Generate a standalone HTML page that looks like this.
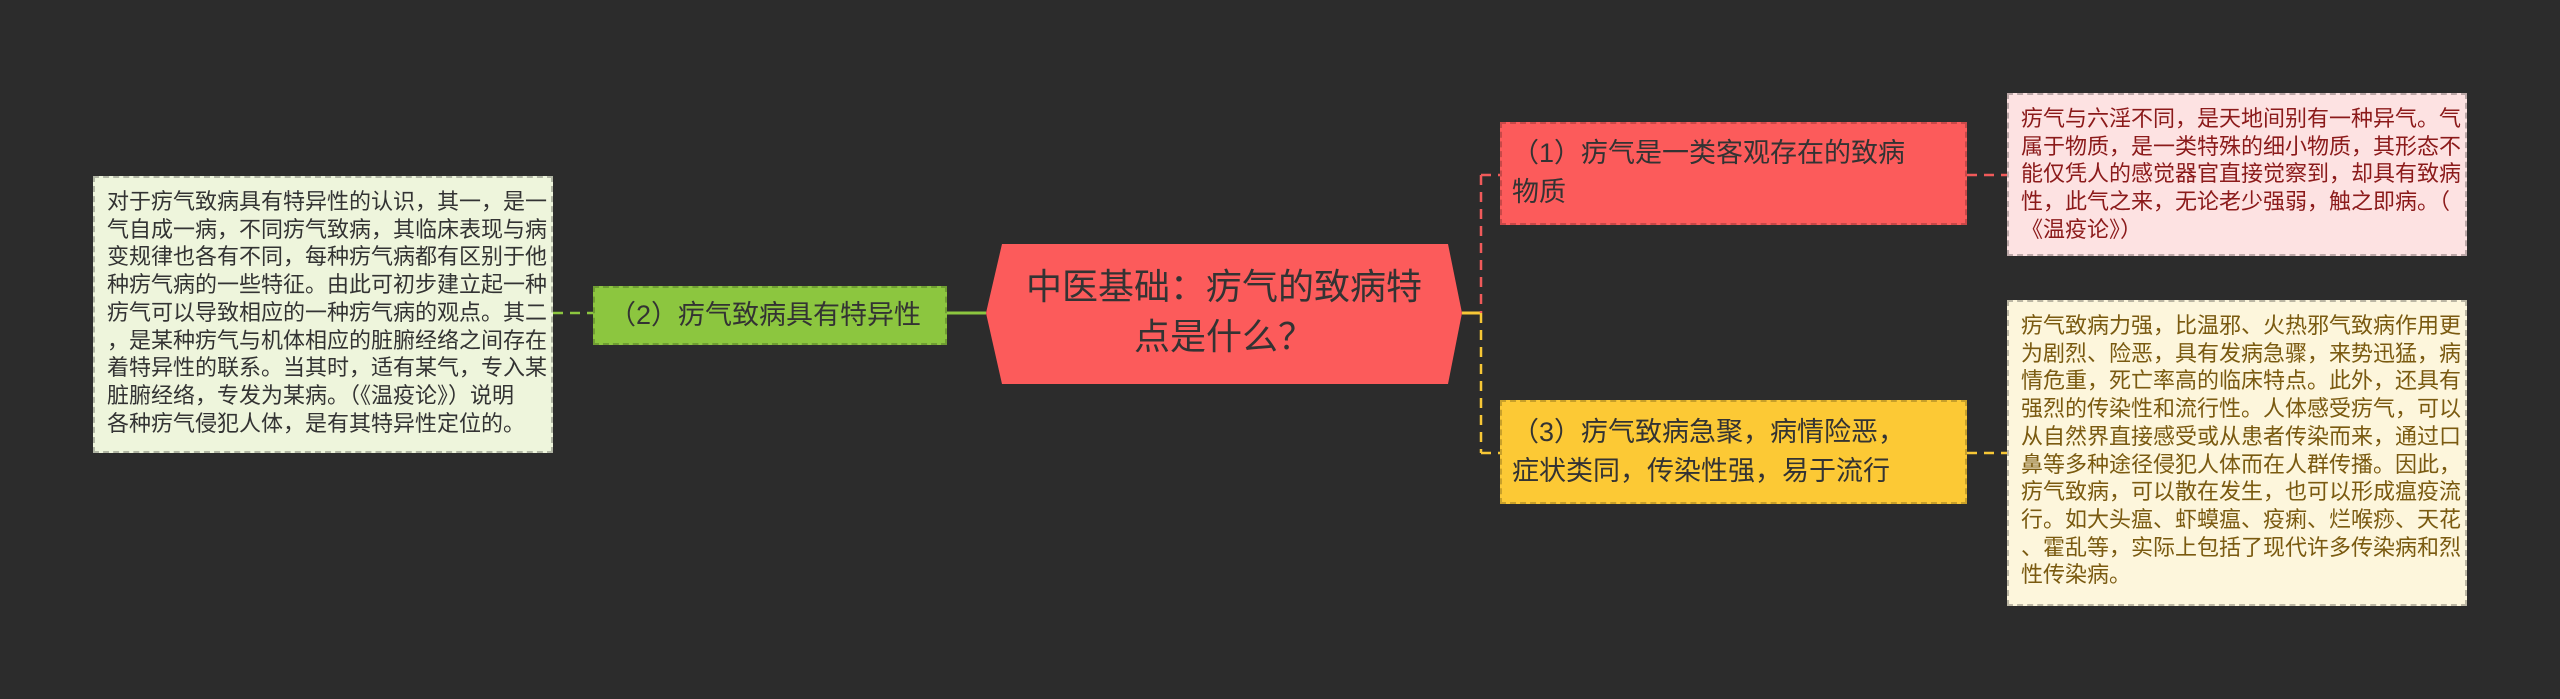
<!DOCTYPE html>
<html><head><meta charset="utf-8"><style>
html,body{margin:0;padding:0;}
body{width:2560px;height:699px;background:#2c2c2c;position:relative;overflow:hidden;font-family:"Liberation Sans","Noto Sans CJK SC",sans-serif;}
.b{position:absolute;box-sizing:border-box;white-space:nowrap;}
.note{font-size:22px;line-height:27.7px;padding:10px 0 0 12px;border:2px dashed rgba(0,0,0,0.25);}
.node{font-size:27px;line-height:39px;border:2px dashed rgba(0,0,0,0.2);}
</style></head><body>
<svg width="2560" height="699" style="position:absolute;left:0;top:0">
<polygon points="986,313 1002,244 1448,244 1462,313 1448,384 1002,384" fill="#fc5b5b"/>
<line x1="947" y1="313" x2="986" y2="313" stroke="#8cc63f" stroke-width="3"/>
<line x1="553" y1="313" x2="593" y2="313" stroke="#8cc63f" stroke-width="2.5" stroke-dasharray="10,7"/>
<line x1="1462" y1="313" x2="1481" y2="313" stroke="#f7c736" stroke-width="3"/>
<line x1="1481" y1="175" x2="1481" y2="313" stroke="#f05a5a" stroke-width="2.5" stroke-dasharray="10,7"/>
<line x1="1481" y1="313" x2="1481" y2="453" stroke="#f7c736" stroke-width="2.5" stroke-dasharray="10,7"/>
<line x1="1481" y1="175" x2="1500" y2="175" stroke="#f05a5a" stroke-width="2.5" stroke-dasharray="10,7"/>
<line x1="1481" y1="453" x2="1500" y2="453" stroke="#f7c736" stroke-width="2.5" stroke-dasharray="10,7"/>
<line x1="1967" y1="175" x2="2007" y2="175" stroke="#f05a5a" stroke-width="2.5" stroke-dasharray="10,7"/>
<line x1="1967" y1="453" x2="2007" y2="453" stroke="#f7c736" stroke-width="2.5" stroke-dasharray="10,7"/>
</svg>
<div class="b" style="left:986px;top:262px;width:476px;text-align:center;font-size:36px;line-height:50px;color:#333;">中医基础：疠气的致病特<br>点是什么？</div>
<div class="b note" style="left:93px;top:176px;width:460px;height:277px;background:#eef5dc;color:#333;">对于疠气致病具有特异性的认识，其一，是一<br>气自成一病，不同疠气致病，其临床表现与病<br>变规律也各有不同，每种疠气病都有区别于他<br>种疠气病的一些特征。由此可初步建立起一种<br>疠气可以导致相应的一种疠气病的观点。其二<br>，是某种疠气与机体相应的脏腑经络之间存在<br>着特异性的联系。当其时，适有某气，专入某<br>脏腑经络，专发为某病。（《温疫论》）说明<br>各种疠气侵犯人体，是有其特异性定位的。</div>
<div class="b node" style="left:593px;top:286px;width:354px;height:59px;background:#8cc63f;color:#333;padding:8px 0 0 14px;">（2）疠气致病具有特异性</div>
<div class="b node" style="left:1500px;top:122px;width:467px;height:103px;background:#fc5b5b;color:#333;padding:10px 0 0 10px;">（1）疠气是一类客观存在的致病<br>物质</div>
<div class="b node" style="left:1500px;top:400px;width:467px;height:104px;background:#fcc935;color:#333;padding:11px 0 0 10px;">（3）疠气致病急聚，病情险恶，<br>症状类同，传染性强，易于流行</div>
<div class="b note" style="left:2007px;top:93px;width:460px;height:163px;background:#fde2e2;color:#8b1a1a;">疠气与六淫不同，是天地间别有一种异气。气<br>属于物质，是一类特殊的细小物质，其形态不<br>能仅凭人的感觉器官直接觉察到，却具有致病<br>性，此气之来，无论老少强弱，触之即病。（<br>《温疫论》）</div>
<div class="b note" style="left:2007px;top:300px;width:460px;height:306px;background:#fdf6dc;color:#7a5a10;">疠气致病力强，比温邪、火热邪气致病作用更<br>为剧烈、险恶，具有发病急骤，来势迅猛，病<br>情危重，死亡率高的临床特点。此外，还具有<br>强烈的传染性和流行性。人体感受疠气，可以<br>从自然界直接感受或从患者传染而来，通过口<br>鼻等多种途径侵犯人体而在人群传播。因此，<br>疠气致病，可以散在发生，也可以形成瘟疫流<br>行。如大头瘟、虾蟆瘟、疫痢、烂喉痧、天花<br>、霍乱等，实际上包括了现代许多传染病和烈<br>性传染病。</div>
</body></html>
